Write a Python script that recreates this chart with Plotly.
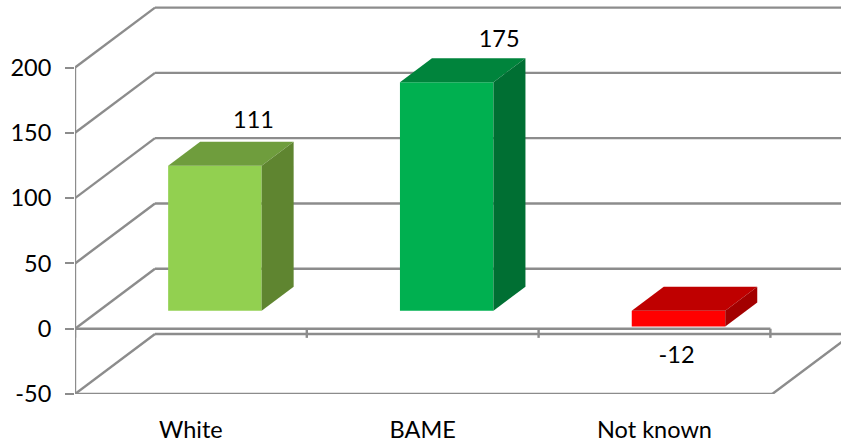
import plotly.graph_objects as go

categories = ["White", "BAME", "Not known"]
values = [111, 175, -12]
y_ticks = [-50, 0, 50, 100, 150, 200]

front_colors = ["#92D050", "#00B050", "#FF0000"]
top_colors = ["#6F9D3D", "#00843C", "#BF0000"]
side_colors = ["#5F8530", "#006F33", "#A30000"]
GRID = "#8C8C8C"
FONT = "Lato, 'Open Sans', sans-serif"
TEXT_SIZE = 23.5

# oblique projection: how far a point at full depth shifts, in axis units
PX_X = 231.8
PX_Y = 393 / 301
DX = 80 / PX_X
DY = 60 / PX_Y
NEAR, FAR = 0.30, 0.70
WIDTH = 93.5 / PX_X
X0, X1 = -0.5, -0.5 + 766 / PX_X
Y0, Y1 = -50, 251


def proj(x, y, d):
    return x + DX * d, y + DY * d


def poly(points, color):
    xs = [p[0] for p in points] + [points[0][0]]
    ys = [p[1] for p in points] + [points[0][1]]
    return go.Scatter(x=xs, y=ys, mode="lines", fill="toself", fillcolor=color,
                      line=dict(color=color, width=0), hoverinfo="skip")


fig = go.Figure()
shapes = []


def seg(p, q, width=2.4):
    shapes.append(dict(type="line", xref="x", yref="y", layer="below",
                       x0=p[0], y0=p[1], x1=q[0], y1=q[1],
                       line=dict(color=GRID, width=width)))


left = X0
right_front = 2.508
# back wall lines and left wall diagonals
for t in y_ticks:
    bx, by = proj(left, t, 1)
    seg((left, t), (bx, by))
    seg((bx, by), (X1 + 0.01, by))
# vertical front axis
seg((left, y_ticks[0]), (left, y_ticks[-1]))
# front bottom edge and right floor diagonal
seg((left, y_ticks[0]), (right_front, y_ticks[0]))
seg((right_front, y_ticks[0]), proj(right_front, y_ticks[0], 1))
# category axis at zero with its ticks
seg((left, 0), (2.5, 0))
for i in range(len(categories) + 1):
    seg((left + i, 0), (left + i, -7))

# bars
for i, (cat, v) in enumerate(zip(categories, values)):
    cx, base = proj(i, 0, NEAR)
    xl, xr = cx - WIDTH / 2, cx + WIDTH / 2
    upper = base + max(v, 0)
    lower = base + min(v, 0)
    dx = DX * (FAR - NEAR)
    dy = DY * (FAR - NEAR)
    fig.add_trace(go.Bar(x=[cx], y=[v], base=[base], width=[WIDTH],
                         marker=dict(color=front_colors[i], line=dict(width=0)),
                         name=cat))
    fig.add_trace(poly([(xl, upper), (xr, upper), (xr + dx, upper + dy), (xl + dx, upper + dy)],
                       top_colors[i]))
    fig.add_trace(poly([(xr, lower), (xr, upper), (xr + dx, upper + dy), (xr + dx, lower + dy)],
                       side_colors[i]))

# data labels, placed by hand relative to each bar as in the reference
label_dx = [0.27, 0.33, 0.095]
label_dy = [47, 45, -9.7]
fig.add_trace(go.Scatter(
    x=[i + label_dx[i] for i in range(len(values))],
    y=[values[i] + label_dy[i] for i in range(len(values))],
    mode="text", text=[str(v) for v in values],
    textfont=dict(family=FONT, size=TEXT_SIZE, color="#000000"),
    textposition="middle center", hoverinfo="skip"))

fig.update_layout(
    width=841, height=443, showlegend=False, barmode="overlay",
    margin=dict(l=75, r=0, t=1, b=49, pad=0, autoexpand=False),
    paper_bgcolor="white", plot_bgcolor="white", shapes=shapes,
    font=dict(family=FONT, size=TEXT_SIZE, color="#000000"),
    xaxis=dict(range=[X0, X1], tickmode="array", tickvals=list(range(len(categories))),
               ticktext=categories, showgrid=False, zeroline=False, showline=False,
               automargin=False, ticks="outside", ticklen=15, tickcolor="rgba(0,0,0,0)",
               tickfont=dict(size=TEXT_SIZE)),
    yaxis=dict(range=[Y0, Y1], tickmode="array", tickvals=y_ticks,
               ticktext=[str(t) for t in y_ticks], showgrid=False, zeroline=False,
               automargin=False, showline=False, ticks="outside", ticklen=9, tickwidth=2,
               tickcolor=GRID, ticklabelstandoff=9, tickfont=dict(size=TEXT_SIZE)),
)
fig.write_html("out.html", config=dict(displayModeBar=False),
               post_script="document.body.style.margin='0';")
